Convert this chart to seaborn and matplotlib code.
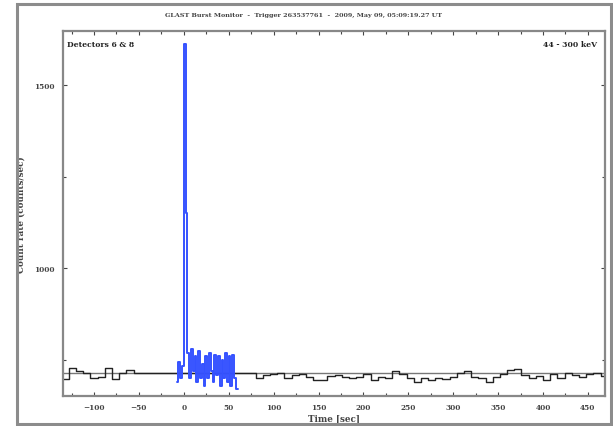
import numpy as np
import pandas as pd
import matplotlib
matplotlib.use("Agg")
import matplotlib.pyplot as plt
from matplotlib.patches import Rectangle
import seaborn as sns

# Background light curve (8 s bins), left bin edges in seconds
bg_start = -136
bg_width = 8
bg_rates = [
    698, 727, 719, 716, 702, 705, 727, 697, 716, 723, 716, 716, 716, 716, 716, 716,
    716, 716, 716, 716, 716, 716, 716, 716, 716, 716,
    716, 700, 708, 712, 716, 700, 708, 712, 704, 696, 696, 706, 710, 704, 700,
    704, 712, 696, 704, 700, 720, 712, 700, 690, 700, 696, 702, 698, 704, 716,
    720, 704, 700, 690, 704, 712, 722, 726, 708, 700, 706, 696, 712, 700, 716, 708,
    704, 712, 716, 706,
]

# Burst light curve (2 s bins), left bin edges in seconds
burst_start = -8
burst_width = 2
burst_rates = [
    690, 745, 700, 735, 1612, 1150, 770, 700, 780, 720, 760, 690, 775, 700, 740,
    680, 760, 700, 770, 720, 690, 765, 710, 760, 680, 750, 700, 770, 690, 760,
    680, 765, 700, 670,
]

background_level = 716

title = "GLAST Burst Monitor  -  Trigger 263537761  -  2009, May 09, 05:09:19.27 UT"
detector_text = "Detectors 6 & 8"
energy_text = "44 - 300 keV"
x_label = "Time [sec]"
y_label = "Count rate (counts/sec)"
x_ticks = [-100, -50, 0, 50, 100, 150, 200, 250, 300, 350, 400, 450]
y_ticks = [1000, 1500]


def step_frame(start, width, rates):
    edges = start + width * np.arange(len(rates) + 1)
    return pd.DataFrame({"t": edges, "rate": list(rates) + [rates[-1]]})


bg = step_frame(bg_start, bg_width, bg_rates)
burst = step_frame(burst_start, burst_width, burst_rates)

sns.set_theme(style="ticks")
plt.rcParams["font.family"] = ["DejaVu Serif"]

fig = plt.figure(figsize=(6.13, 4.27), dpi=100)
ax = fig.add_axes([63 / 613, 1 - 397 / 427, (605 - 63) / 613, (397 - 32) / 427])

# figure frame
fig.patches.append(Rectangle((17 / 613, 2 / 427), 594 / 613, 420 / 427,
                             transform=fig.transFigure, fill=False,
                             edgecolor="#8c8c8c", linewidth=2.2))

ax.axhline(background_level, color="#777777", linewidth=1.0, zorder=1)
sns.lineplot(data=bg, x="t", y="rate", drawstyle="steps-post", color="#222222",
             linewidth=1.0, ax=ax, zorder=2)
sns.lineplot(data=burst, x="t", y="rate", drawstyle="steps-post", color="#3552ff",
             linewidth=1.4, ax=ax, zorder=3)

ax.set_xlim(-134.5, 469)
ax.set_ylim(652, 1647)
ax.set_xticks(x_ticks)
ax.set_xticks(np.arange(-125, 470, 25), minor=True)
ax.set_yticks(y_ticks)
ax.set_yticks([750, 1250], minor=True)
ax.tick_params(axis="both", which="both", direction="in", top=True, right=True,
               labelsize=5.3, colors="#444444", length=3, width=0.8)
ax.tick_params(which="minor", length=2)
ax.tick_params(axis="x", pad=5)
ax.tick_params(axis="y", pad=6)
for lab in ax.get_xticklabels() + ax.get_yticklabels():
    lab.set_fontweight("bold")
for s in ax.spines.values():
    s.set_color("#888888")
    s.set_linewidth(1.6)

ax.set_xlabel(x_label, fontsize=6.3, fontweight="bold", labelpad=2, color="#444444")
ax.set_ylabel(y_label, fontsize=6.3, fontweight="bold", labelpad=6, color="#444444")
fig.text(0.495, 1 - 16 / 427, title, ha="center", va="center", fontsize=4.6,
         fontweight="bold", color="#444444")
ax.text(0.008, 0.975, detector_text, transform=ax.transAxes, ha="left", va="top",
        fontsize=5.5, fontweight="bold", color="#222222")
ax.text(0.985, 0.975, energy_text, transform=ax.transAxes, ha="right", va="top",
        fontsize=5.5, fontweight="bold", color="#222222")

fig.savefig("out.png", dpi=100)
